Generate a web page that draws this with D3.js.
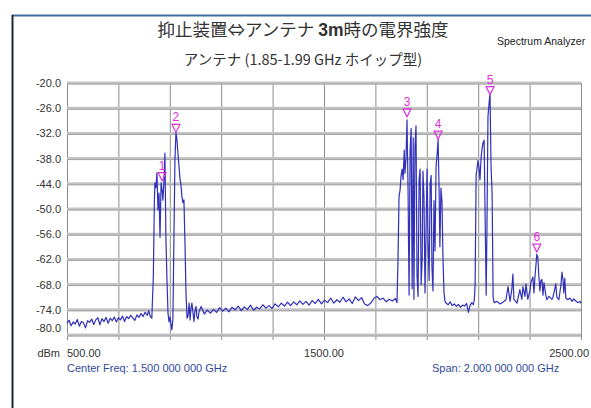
<!DOCTYPE html>
<html lang="ja"><head>
<meta charset="utf-8">
<title>spectrum</title>
<script src="https://cdn.jsdelivr.net/npm/d3@7"></script>
<style>
  body { margin: 0; background: #fff; }
  text { font-family: "Liberation Sans", Arial, sans-serif; }
</style>
</head>
<body>
<svg width="591" height="408"></svg>
<script>
// trace: [MHz, dBm]
var trace = [
  [500,-77.2],[508,-76.5],[516,-77.8],[524,-76.9],[532,-77.4],[540,-76.3],[548,-77.9],[556,-76.8],
  [564,-77.1],[572,-78.3],[580,-76.6],[588,-77.0],[596,-76.2],[604,-77.5],[612,-76.4],[620,-75.9],
  [628,-77.6],[636,-76.1],[644,-76.8],[652,-75.8],[660,-77.2],[668,-76.0],[676,-76.6],[684,-75.7],
  [692,-76.9],[700,-75.9],[708,-76.4],[716,-75.5],[724,-76.8],[732,-75.6],[740,-76.1],[748,-75.3],
  [756,-75.9],[764,-76.5],[772,-75.2],[780,-75.8],[788,-74.9],[796,-75.6],[804,-74.6],[812,-75.3],
  [818,-74.2],[824,-75.6],[830,-76.0],
  [836,-66],[840,-48],[842,-43.8],[846,-45],[850,-41.4],[854,-50.2],[858,-46.2],[862,-56.7],
  [866,-43.8],[870,-45.5],[873,-47.9],[877,-43.8],[881,-36.7],[885,-57.4],[889,-66.9],[893,-74.8],
  [897,-76.9],[901,-75.7],[904,-77.1],[908,-78.8],[912,-76.4],[916,-57.4],[920,-38.3],[924,-31.9],
  [928,-33.5],[932,-37],[936,-40],[940,-43],[943,-44],[947,-47],[951,-48.5],[955,-47.8],
  [959,-58],[963,-70],[967,-76],[971,-75.5],[975,-72.4],[979,-76.4],[982,-73.8],[986,-72.4],
  [990,-74.5],[994,-76.8],[998,-74.3],[1002,-73.2],[1006,-75.8],[1010,-76.2],[1014,-74.4],
  [1022,-73.2],[1034,-75.0],[1046,-74.1],[1058,-74.8],[1070,-73.9],[1082,-74.6],[1094,-73.5],[1106,-74.3],
  [1118,-73.6],[1130,-74.5],[1142,-73.4],[1154,-74.0],[1166,-73.1],[1178,-74.2],[1190,-73.3],[1202,-73.9],
  [1214,-72.9],[1226,-74.1],[1238,-73.4],[1250,-73.8],[1262,-72.8],[1274,-73.6],[1286,-73.0],[1298,-73.7],
  [1310,-72.6],[1322,-73.3],[1334,-72.4],[1346,-73.1],[1358,-72.2],[1370,-73.0],[1382,-72.1],[1394,-72.8],
  [1406,-71.9],[1418,-72.7],[1430,-72.0],[1442,-72.9],[1454,-71.8],[1466,-72.5],[1478,-71.5],[1490,-72.6],
  [1502,-71.7],[1514,-72.3],[1526,-71.2],[1538,-72.4],[1550,-71.6],[1562,-72.2],[1574,-71.0],[1586,-72.1],
  [1598,-71.4],[1610,-72.5],[1622,-70.9],[1634,-71.8],[1646,-71.1],[1658,-72.6],[1670,-73.0],[1682,-72.4],
  [1694,-71.3],[1706,-70.8],[1718,-71.6],[1730,-71.2],[1742,-72.1],[1754,-71.5],[1766,-71.9],[1778,-71.3],
  [1784,-72.3],
  [1788,-62],[1792,-47],[1796,-45.5],[1800,-42],[1804,-40.5],[1808,-43],[1812,-36],[1815,-41.5],
  [1819,-38],[1823,-28.8],[1827,-45],[1831,-70.5],[1835,-36],[1839,-30.8],[1843,-69],[1847,-33],
  [1850,-71.5],[1854,-35],[1858,-30.2],[1862,-66],[1866,-70.8],[1870,-43],[1874,-40.5],[1878,-68],
  [1882,-62],[1885,-41],[1889,-47],[1893,-70],[1897,-55],[1901,-40.5],[1905,-58],[1909,-67],
  [1913,-44],[1917,-42],[1920,-64],[1924,-69.5],[1928,-48],[1932,-60],[1936,-40],[1940,-37],
  [1944,-33.5],[1948,-46],[1951,-59],[1955,-45],[1959,-48],[1963,-62],[1967,-70],[1971,-72],
  [1975,-72.4],[1983,-72.8],[1991,-72.1],[1999,-73.0],[2007,-72.6],[2015,-73.2],[2023,-72.7],[2031,-73.4],
  [2039,-72.9],[2047,-73.1],[2055,-72.5],[2062,-74.6],[2068,-73.0],[2075,-72.3],[2081,-72.8],[2085,-71.5],
  [2088,-68],[2092,-42],[2095,-40.5],[2099,-38.5],[2103,-40],[2107,-43],[2111,-38],[2115,-35.5],
  [2119,-34.2],[2123,-33.6],[2127,-52],[2131,-70.5],[2134,-55],[2138,-28],[2142,-25],[2146,-22.5],
  [2150,-40],[2154,-46],[2158,-71],[2162,-72.3],
  [2173,-72.0],[2185,-72.6],[2196,-72.2],[2208,-71.6],[2216,-68.5],[2224,-72.0],[2231,-69],[2235,-65.5],
  [2239,-71.5],[2251,-72.4],[2262,-69.2],[2270,-71.5],[2274,-68.5],[2282,-70.8],[2286,-67.8],[2293,-71.5],
  [2301,-69.5],[2305,-67.5],[2313,-66.2],[2317,-70],[2321,-66],[2324,-63.8],[2328,-60.8],[2332,-61.5],
  [2336,-66],[2340,-69.5],[2344,-67],[2348,-66.8],[2352,-70.5],[2356,-67.5],[2363,-70.5],[2367,-71.6],
  [2375,-70.8],[2379,-71],[2387,-71.5],[2391,-71.0],[2398,-69],[2402,-67.8],[2406,-71],[2414,-71.6],
  [2422,-68],[2426,-65],[2430,-66.8],[2433,-70],[2437,-66.5],[2441,-71.2],[2449,-71.6],[2457,-71.2],
  [2465,-72.0],[2472,-71.4],[2480,-71.9],[2488,-72.3],[2496,-72.0],[2500,-72.4]
];

var markerIds = ["1", "2", "3", "4", "5", "6"];
var markerFreq = [870, 924, 1823, 1944, 2146, 2328];
var markerLevel = [-43.5, -32, -28.3, -33.6, -23, -60.5];

var yTicks = [-20, -26, -32, -38, -44, -50, -56, -62, -68, -74, -80];
var xDivs = d3.range(500, 2501, 200);
var xLabels = [500, 1500, 2500];

var svg = d3.select("svg");

// outer frame
svg.append("line").attr("x1", 12).attr("x2", 591).attr("y1", 15.5).attr("y2", 15.5)
   .attr("stroke", "#3f6f9f").attr("stroke-width", 2);
svg.append("line").attr("x1", 12.5).attr("x2", 12.5).attr("y1", 15).attr("y2", 408)
   .attr("stroke", "#1c2838").attr("stroke-width", 2);

var x = d3.scaleLinear().domain([500, 2500]).range([67, 581]);
var y = d3.scaleLinear().domain([-80, -20]).range([335, 83]);

// grid
svg.append("g").selectAll("line").data(xDivs).enter().append("line")
   .attr("x1", d => x(d) + 0.5).attr("x2", d => x(d) + 0.5)
   .attr("y1", y(-20)).attr("y2", y(-80) + 5)
   .attr("stroke", "#8c8c8c").attr("stroke-width", 1);
svg.append("g").selectAll("line").data(yTicks).enter().append("line")
   .attr("x1", x(500)).attr("x2", x(2500))
   .attr("y1", d => y(d)).attr("y2", d => y(d))
   .attr("stroke", "#c4c4c4").attr("stroke-width", 3);
svg.append("g").selectAll("line").data(yTicks).enter().append("line")
   .attr("x1", x(500)).attr("x2", x(2500))
   .attr("y1", d => y(d) + 1).attr("y2", d => y(d) + 1)
   .attr("stroke", "#9a9a9a").attr("stroke-width", 0.8);

// y labels
svg.append("g").selectAll("text").data(yTicks).enter().append("text")
   .attr("x", 61)
   .attr("y", d => y(d) + 4 - (d === -80 ? 7 : 0))
   .attr("text-anchor", "end")
   .attr("font-size", "11px")
   .attr("fill", "#333")
   .text(d => d.toFixed(1));

svg.append("text").attr("x", 60).attr("y", 357).attr("text-anchor", "end")
   .attr("font-size", "11px").attr("fill", "#333").text("dBm");

svg.append("g").selectAll("text").data(xLabels).enter().append("text")
   .attr("x", (d, i) => i === 2 ? x(d) + 8 : x(d))
   .attr("y", 357)
   .attr("text-anchor", (d, i) => ["start", "middle", "end"][i])
   .attr("font-size", "11px").attr("fill", "#333")
   .text(d => d.toFixed(2));

svg.append("text").attr("x", 67).attr("y", 372).attr("font-size", "11px")
   .attr("fill", "#2f4a9c").text("Center Freq: 1.500 000 000 GHz");
svg.append("text").attr("x", 432).attr("y", 372).attr("font-size", "11px")
   .attr("fill", "#2f4a9c").text("Span: 2.000 000 000 GHz");

// trace
var line = d3.line().x(d => x(d[0])).y(d => y(d[1]));
svg.append("path").datum(trace)
   .attr("d", line)
   .attr("fill", "none")
   .attr("stroke", "#3030bb")
   .attr("stroke-width", 1.2)
   .attr("stroke-linejoin", "round");

// markers
var mk = svg.append("g").selectAll("g").data(markerIds).enter().append("g")
   .attr("transform", (d, i) => "translate(" + x(markerFreq[i]) + "," + y(markerLevel[i]) + ")");
mk.append("path").attr("d", "M-4,-9 L4,-9 L0,-1 Z")
   .attr("fill", "none").attr("stroke", "#dd33dd").attr("stroke-width", 1.2);
mk.append("text").attr("y", -12).attr("text-anchor", "middle")
   .attr("font-size", "12px").attr("fill", "#dd33dd").text(d => d);

// titles
var t1 = svg.append("text").attr("x", 303).attr("y", 36).attr("text-anchor", "middle")
   .attr("font-size", "17.5px").attr("fill", "#333")
   .style("font-family", "'Noto Sans CJK JP', sans-serif");
t1.append("tspan").text("抑止装置⇔アンテナ ");
t1.append("tspan").attr("font-weight", "bold").style("font-family", "'Liberation Sans', sans-serif").text("3m");
t1.append("tspan").text("時の電界強度");

svg.append("text").attr("x", 303).attr("y", 65).attr("text-anchor", "middle")
   .attr("font-size", "14.5px").attr("fill", "#333")
   .style("font-family", "'Noto Sans CJK JP', sans-serif")
   .text("アンテナ (1.85-1.99 GHz ホイップ型)");

svg.append("text").attr("x", 497).attr("y", 45).attr("font-size", "10.5px")
   .attr("fill", "#222").text("Spectrum Analyzer");
</script>
</body>
</html>
